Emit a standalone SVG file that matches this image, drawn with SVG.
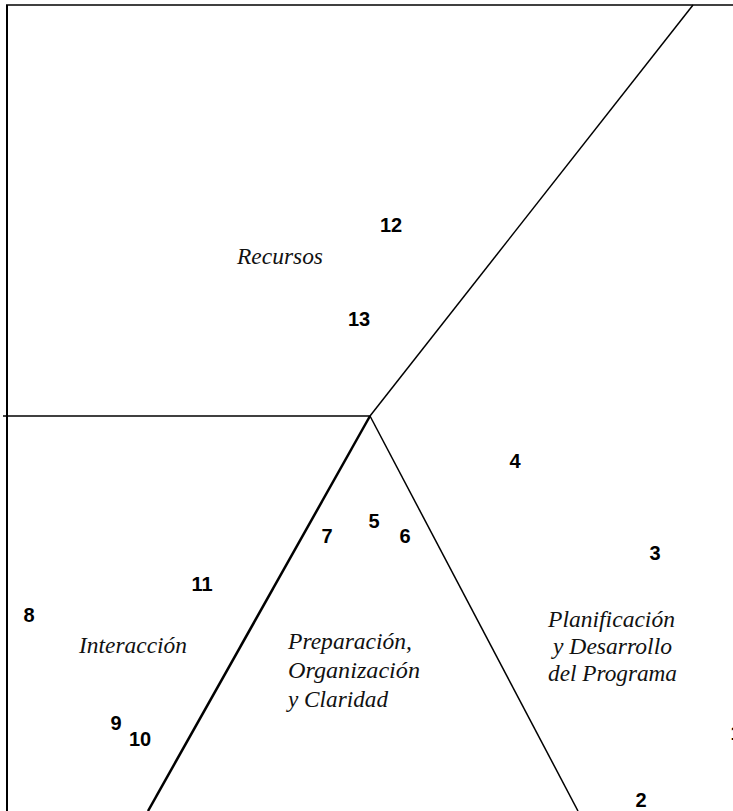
<svg xmlns="http://www.w3.org/2000/svg" width="733" height="811" viewBox="0 0 733 811">
<style>
.ln{stroke:#000;fill:none;stroke-width:1.5}
.num{font-family:"Liberation Sans Narrow","Liberation Sans",Arial,sans-serif;font-weight:bold;font-size:20px;text-anchor:middle;fill:#000}
.lab{font-family:"Liberation Serif","Times New Roman",serif;font-style:italic;font-size:23px;fill:#111}
</style>
<rect width="733" height="811" fill="#fff"/>
<g id="connectors">
<line class="ln" x1="6" y1="5" x2="733" y2="5"/>
<line class="ln" x1="7" y1="5" x2="7" y2="811" style="stroke-width:2"/>
<line class="ln" x1="3" y1="416" x2="370" y2="416"/>
<line class="ln" x1="370" y1="416" x2="693" y2="5"/>
<line class="ln" x1="370" y1="416" x2="148" y2="811" style="stroke-width:2.5"/>
<line class="ln" x1="370" y1="416" x2="578" y2="811"/>
</g>
<g id="recursos">
<text class="lab" x="237" y="264" textLength="86" lengthAdjust="spacingAndGlyphs">Recursos</text>
<text class="num" x="391" y="232">12</text>
<text class="num" x="359" y="326">13</text>
</g>
<g id="interaccion">
<text class="lab" x="79" y="653" textLength="108" lengthAdjust="spacingAndGlyphs">Interacción</text>
<text class="num" x="202" y="591">11</text>
<text class="num" x="29" y="622">8</text>
<text class="num" x="116" y="730">9</text>
<text class="num" x="140" y="746">10</text>
</g>
<g id="preparacion">
<text class="lab" x="288" y="649" textLength="124" lengthAdjust="spacingAndGlyphs">Preparación,</text>
<text class="lab" x="288" y="678" textLength="132" lengthAdjust="spacingAndGlyphs">Organización</text>
<text class="lab" x="288" y="707" textLength="100" lengthAdjust="spacingAndGlyphs">y Claridad</text>
<text class="num" x="374" y="528">5</text>
<text class="num" x="405" y="543">6</text>
<text class="num" x="327" y="543">7</text>
</g>
<g id="planificacion">
<text class="lab" x="548" y="627" textLength="127" lengthAdjust="spacingAndGlyphs">Planificación</text>
<text class="lab" x="553" y="654" textLength="119" lengthAdjust="spacingAndGlyphs">y Desarrollo</text>
<text class="lab" x="548" y="681" textLength="129" lengthAdjust="spacingAndGlyphs">del Programa</text>
<text class="num" x="515" y="468">4</text>
<text class="num" x="655" y="560">3</text>
<text class="num" x="641" y="807">2</text>
<text class="num" x="736" y="740">1</text>
</g>
</svg>
